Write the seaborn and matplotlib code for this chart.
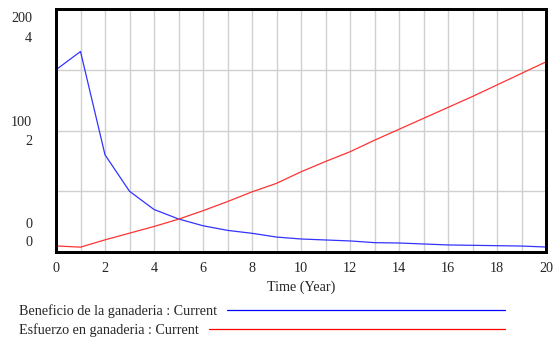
import numpy as np
import pandas as pd
import matplotlib
matplotlib.use("Agg")
import matplotlib.pyplot as plt
import seaborn as sns

years = list(range(0, 21))
beneficio = [150, 165, 80, 50, 35, 27.2, 21.6, 17.8, 15.4, 12.3, 10.7, 9.9, 9.1, 7.7, 7.4, 6.6, 5.8, 5.5, 5.2, 4.9, 4.1]
esfuerzo = [0.10, 0.08, 0.20, 0.31, 0.42, 0.54, 0.68, 0.83, 0.99, 1.13, 1.32, 1.49, 1.65, 1.84, 2.02, 2.20, 2.38, 2.56, 2.75, 2.94, 3.13]
x_ticks = [0, 2, 4, 6, 8, 10, 12, 14, 16, 18, 20]
left_labels_a = ["200", "100", "0"]
left_labels_b = ["4", "2", "0"]
series_names = ["Beneficio de la ganaderia : Current", "Esfuerzo en ganaderia : Current"]
x_label = "Time (Year)"

df = pd.DataFrame({"t": years, "b": beneficio, "e": esfuerzo})

sns.set_style("white")
plt.rcParams["font.family"] = ["Liberation Serif", "DejaVu Serif"]

FS = 10.2
W, H = 554, 340
fig = plt.figure(figsize=(W / 100, H / 100), dpi=100)
L, R, T, B = 56, 546, 9, 252
ax = fig.add_axes([L / W, 1 - B / H, (R - L) / W, (B - T) / H])
ax2 = ax.twinx()

sns.lineplot(data=df, x="t", y="b", ax=ax, color="#3333ff", linewidth=0.9)
sns.lineplot(data=df, x="t", y="e", ax=ax2, color="#ff3333", linewidth=0.9)

ax.set_xlim(0, 20)
ax.set_ylim(0, 200)
ax2.set_ylim(0, 4)
ax.set_xticks(x_ticks)
ax.set_xticks(years, minor=True)
ax.set_yticks([0, 50, 100, 150, 200])
ax.set_yticklabels([])
ax2.set_yticks([])
ax.grid(True, which="both", axis="x", color="#d0d0d0", linewidth=1.0)
ax.grid(True, which="major", axis="y", color="#d0d0d0", linewidth=1.0)
ax.tick_params(axis="x", which="both", length=0, pad=7, labelsize=FS)
ax.tick_params(axis="y", length=0)
ax.set_xlabel(x_label, fontsize=FS, labelpad=4)
ax.set_ylabel("")
ax2.set_ylabel("")
for a in (ax, ax2):
    for s in a.spines.values():
        s.set_color("black")
        s.set_linewidth(2)

# stacked dual-scale labels on the left
lab_y_a = [19, 122, 224]
lab_y_b = [39, 141, 243]
for txt, y in zip(left_labels_a, lab_y_a):
    fig.text(32 / W, 1 - y / H, txt, ha="right", va="center", fontsize=FS)
for txt, y in zip(left_labels_b, lab_y_b):
    fig.text(32 / W, 1 - y / H, txt, ha="right", va="center", fontsize=FS)

# legend
fig.text(19 / W, 1 - 311 / H, series_names[0], ha="left", va="center", fontsize=FS)
fig.text(19 / W, 1 - 330 / H, series_names[1], ha="left", va="center", fontsize=FS)
fig.add_artist(plt.Line2D([227 / W, 505 / W], [1 - 310 / H, 1 - 310 / H], color="#0000ff", linewidth=0.9))
fig.add_artist(plt.Line2D([209 / W, 505 / W], [1 - 329 / H, 1 - 329 / H], color="#ff0000", linewidth=0.9))

fig.savefig("out.png", dpi=100)
